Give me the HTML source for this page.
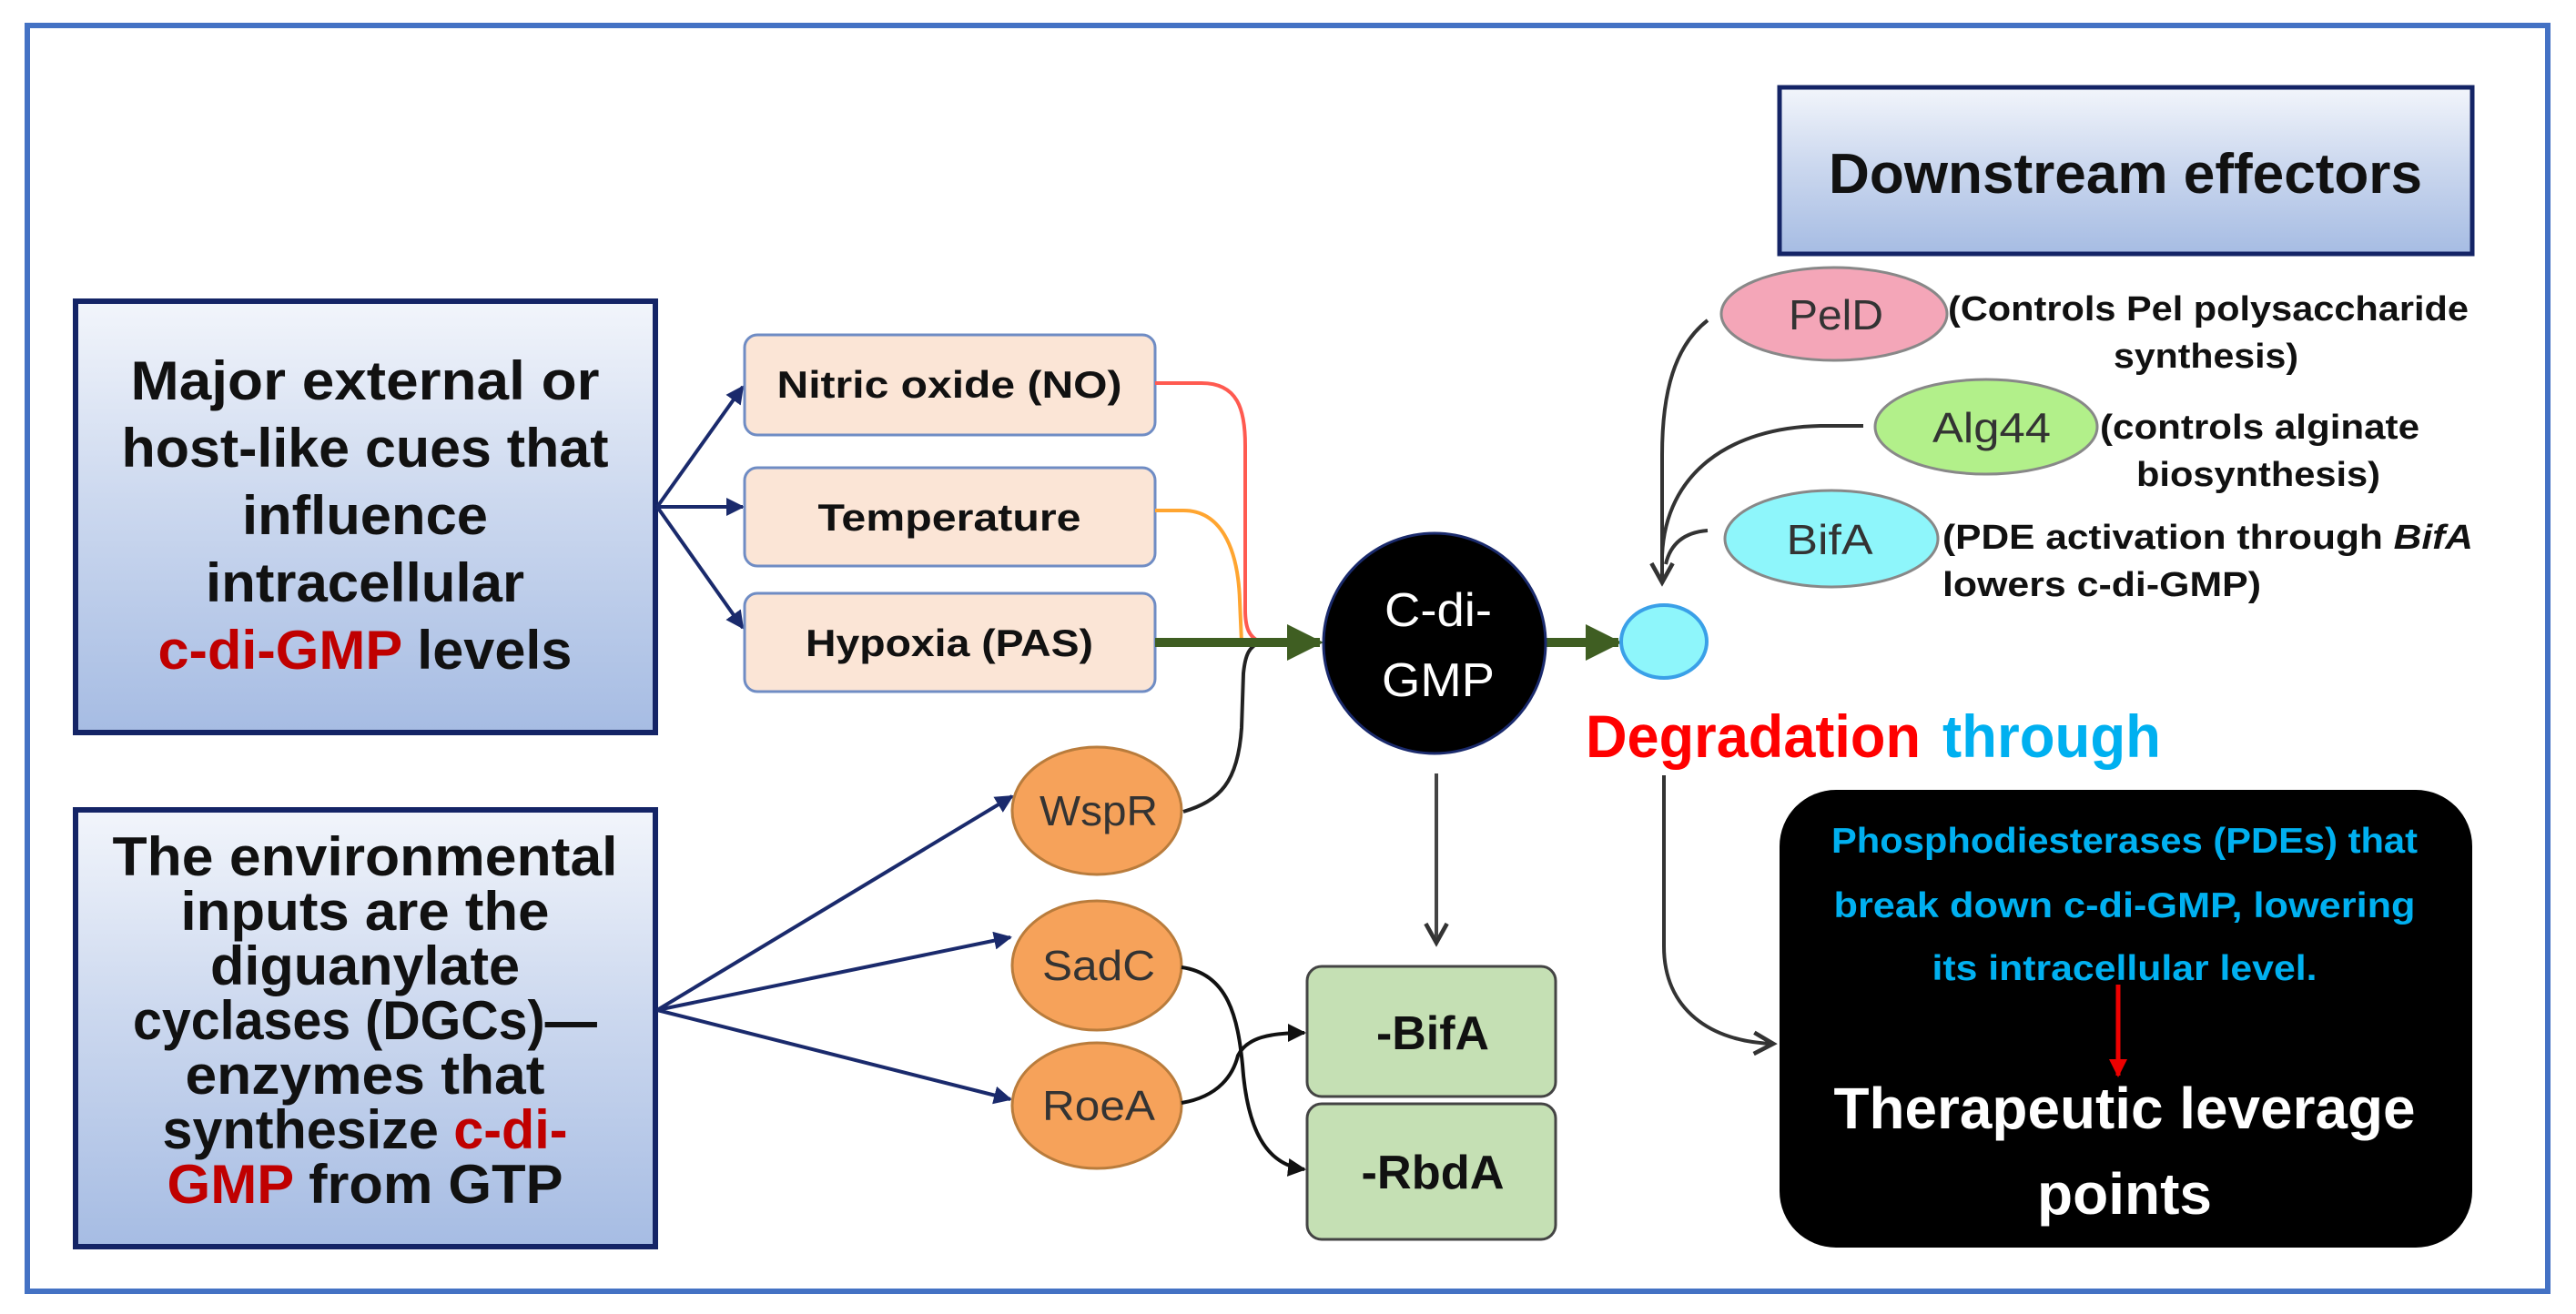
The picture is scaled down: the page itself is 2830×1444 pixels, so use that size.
<!DOCTYPE html>
<html><head><meta charset="utf-8"><style>
html,body{margin:0;padding:0;background:#fff}
svg{display:block}
text{font-family:"Liberation Sans",sans-serif}
</style></head><body>
<svg width="2830" height="1444" viewBox="0 0 2830 1444" xmlns="http://www.w3.org/2000/svg">
<defs>
<linearGradient id="bg" x1="0" y1="0" x2="0" y2="1">
<stop offset="0" stop-color="#f2f5fb"/><stop offset="0.45" stop-color="#cdd9ef"/><stop offset="1" stop-color="#a6bce3"/>
</linearGradient>
<marker id="an" viewBox="0 0 10 10" refX="9" refY="5" markerWidth="5" markerHeight="5" orient="auto"><path d="M0,0 L10,5 L0,10 z" fill="#1a2a6c"/></marker>
<marker id="ag" viewBox="0 0 10 10" refX="9" refY="5" markerWidth="4" markerHeight="4" orient="auto"><path d="M0,0 L10,5 L0,10 z" fill="#3f5e22"/></marker>
<marker id="ak" viewBox="0 0 12 12" refX="10" refY="6" markerWidth="7" markerHeight="7" orient="auto"><path d="M1,1 L10,6 L1,11" fill="none" stroke="#333" stroke-width="2"/></marker>
<marker id="ab" viewBox="0 0 10 10" refX="9" refY="5" markerWidth="5" markerHeight="5" orient="auto"><path d="M0,0 L10,5 L0,10 z" fill="#111"/></marker>
<marker id="ar" viewBox="0 0 10 10" refX="9" refY="5" markerWidth="4" markerHeight="4" orient="auto"><path d="M0,0 L10,5 L0,10 z" fill="#e00"/></marker>
</defs>
<rect x="30" y="28" width="2769" height="1391" fill="#fff" stroke="#4472c4" stroke-width="6"/>

<!-- left boxes -->
<rect x="83" y="331" width="637" height="474" fill="url(#bg)" stroke="#142466" stroke-width="6"/>
<g font-weight="bold" font-size="60" text-anchor="middle" fill="#111">
<text x="401" y="439" textLength="515" lengthAdjust="spacingAndGlyphs">Major external or</text>
<text x="401" y="513" textLength="535" lengthAdjust="spacingAndGlyphs">host-like cues that</text>
<text x="401" y="587" textLength="270" lengthAdjust="spacingAndGlyphs">influence</text>
<text x="401" y="661" textLength="350" lengthAdjust="spacingAndGlyphs">intracellular</text>
<text x="401" y="735" textLength="455" lengthAdjust="spacingAndGlyphs"><tspan fill="#c00000">c-di-GMP</tspan> levels</text>
</g>
<rect x="83" y="890" width="637" height="480" fill="url(#bg)" stroke="#142466" stroke-width="6"/>
<g font-weight="bold" font-size="60" text-anchor="middle" fill="#111">
<text x="401" y="962" textLength="555" lengthAdjust="spacingAndGlyphs">The environmental</text>
<text x="401" y="1022" textLength="405" lengthAdjust="spacingAndGlyphs">inputs are the</text>
<text x="401" y="1082" textLength="340" lengthAdjust="spacingAndGlyphs">diguanylate</text>
<text x="401" y="1142" textLength="510" lengthAdjust="spacingAndGlyphs">cyclases (DGCs)—</text>
<text x="401" y="1202" textLength="395" lengthAdjust="spacingAndGlyphs">enzymes that</text>
<text x="401" y="1262" textLength="445" lengthAdjust="spacingAndGlyphs">synthesize <tspan fill="#c00000">c-di-</tspan></text>
<text x="401" y="1322" textLength="435" lengthAdjust="spacingAndGlyphs"><tspan fill="#c00000">GMP</tspan> from GTP</text>
</g>

<!-- arrows from box1 -->
<g stroke="#1a2a6c" stroke-width="4" fill="none" marker-end="url(#an)">
<line x1="722" y1="557" x2="816" y2="425"/>
<line x1="722" y1="557" x2="816" y2="557"/>
<line x1="722" y1="557" x2="816" y2="690"/>
<line x1="722" y1="1110" x2="1112" y2="875"/>
<line x1="722" y1="1110" x2="1110" y2="1030"/>
<line x1="722" y1="1110" x2="1110" y2="1208"/>
</g>

<!-- cue boxes -->
<g fill="#fbe5d6" stroke="#6f8cc4" stroke-width="3">
<rect x="818" y="368" width="451" height="110" rx="14"/>
<rect x="818" y="514" width="451" height="108" rx="14"/>
<rect x="818" y="652" width="451" height="108" rx="14"/>
</g>
<g font-weight="bold" font-size="42" text-anchor="middle" fill="#111">
<text x="1043" y="437" textLength="379" lengthAdjust="spacingAndGlyphs">Nitric oxide (NO)</text>
<text x="1043" y="583" textLength="289" lengthAdjust="spacingAndGlyphs">Temperature</text>
<text x="1043" y="721" textLength="316" lengthAdjust="spacingAndGlyphs">Hypoxia (PAS)</text>
</g>

<!-- colored converging lines -->
<path d="M1269,421 L1320,421 C1360,421 1368,450 1368,490 L1368,670 C1368,690 1372,700 1385,706" fill="none" stroke="#ff5a50" stroke-width="4"/>
<path d="M1269,561 L1300,561 C1340,561 1360,600 1362,660 L1364,706" fill="none" stroke="#ffa530" stroke-width="4"/>
<path d="M1300,892 C1340,880 1360,860 1364,800 L1366,740 C1368,720 1372,710 1385,706" fill="none" stroke="#222" stroke-width="4"/>
<line x1="1269" y1="706" x2="1450" y2="706" stroke="#3f5e22" stroke-width="10" marker-end="url(#ag)"/>
<line x1="1697" y1="706" x2="1778" y2="706" stroke="#3f5e22" stroke-width="10" marker-end="url(#ag)"/>

<!-- C-di-GMP -->
<ellipse cx="1576" cy="707" rx="122" ry="121" fill="#000" stroke="#1a2a6c" stroke-width="3"/>
<g font-size="52" text-anchor="middle" fill="#fff">
<text x="1580" y="688" textLength="118" lengthAdjust="spacingAndGlyphs">C-di-</text>
<text x="1580" y="765" textLength="124" lengthAdjust="spacingAndGlyphs">GMP</text>
</g>
<ellipse cx="1828" cy="705" rx="47" ry="40" fill="#8ef6fb" stroke="#3aa0e8" stroke-width="4"/>

<!-- down arrow to BifA/RbdA -->
<line x1="1578" y1="850" x2="1578" y2="1036" stroke="#444" stroke-width="4" marker-end="url(#ak)"/>

<!-- DGC ellipses -->
<g fill="#f6a25a" stroke="#b97c3c" stroke-width="3">
<ellipse cx="1205" cy="891" rx="93" ry="70"/>
<ellipse cx="1205" cy="1061" rx="93" ry="71"/>
<ellipse cx="1205" cy="1215" rx="93" ry="69"/>
</g>
<g font-size="46" text-anchor="middle" fill="#333">
<text x="1207" y="907" textLength="130" lengthAdjust="spacingAndGlyphs">WspR</text>
<text x="1207" y="1077" textLength="124" lengthAdjust="spacingAndGlyphs">SadC</text>
<text x="1207" y="1231" textLength="124" lengthAdjust="spacingAndGlyphs">RoeA</text>
</g>
<path d="M1298,1063 C1350,1070 1360,1120 1365,1170 C1370,1240 1390,1280 1433,1285" fill="none" stroke="#111" stroke-width="4" marker-end="url(#ab)"/>
<path d="M1298,1212 C1340,1205 1355,1180 1360,1160 C1370,1140 1395,1135 1433,1135" fill="none" stroke="#111" stroke-width="4" marker-end="url(#ab)"/>

<!-- BifA / RbdA boxes -->
<g fill="#c5e0b4" stroke="#444" stroke-width="3">
<rect x="1436" y="1062" width="273" height="143" rx="16"/>
<rect x="1436" y="1213" width="273" height="149" rx="16"/>
</g>
<g font-weight="bold" font-size="52" text-anchor="middle" fill="#111">
<text x="1574" y="1153" textLength="124" lengthAdjust="spacingAndGlyphs">-BifA</text>
<text x="1574" y="1306" textLength="157" lengthAdjust="spacingAndGlyphs">-RbdA</text>
</g>

<!-- Downstream effectors -->
<rect x="1955" y="96" width="761" height="183" fill="url(#bg)" stroke="#142466" stroke-width="5"/>
<text x="2335" y="212" font-weight="bold" font-size="62" text-anchor="middle" fill="#111" textLength="652" lengthAdjust="spacingAndGlyphs">Downstream effectors</text>

<!-- effector ellipses -->
<ellipse cx="2015" cy="345" rx="124" ry="51" fill="#f4a6b8" stroke="#888" stroke-width="3"/>
<ellipse cx="2182" cy="469" rx="122" ry="52" fill="#b2f08a" stroke="#888" stroke-width="3"/>
<ellipse cx="2012" cy="592" rx="117" ry="53" fill="#8ef6fb" stroke="#888" stroke-width="3"/>
<g font-size="46" text-anchor="middle" fill="#333">
<text x="2017" y="362" textLength="104" lengthAdjust="spacingAndGlyphs">PelD</text>
<text x="2188" y="486" textLength="130" lengthAdjust="spacingAndGlyphs">Alg44</text>
<text x="2010" y="609" textLength="95" lengthAdjust="spacingAndGlyphs">BifA</text>
</g>
<g font-weight="bold" font-size="38" fill="#111">
<text x="2140" y="352" textLength="572" lengthAdjust="spacingAndGlyphs">(Controls Pel polysaccharide</text>
<text x="2322" y="404" textLength="203" lengthAdjust="spacingAndGlyphs">synthesis)</text>
<text x="2307" y="482" textLength="351" lengthAdjust="spacingAndGlyphs">(controls alginate</text>
<text x="2347" y="534" textLength="268" lengthAdjust="spacingAndGlyphs">biosynthesis)</text>
<text x="2134" y="603" textLength="583" lengthAdjust="spacingAndGlyphs">(PDE activation through <tspan font-style="italic">BifA</tspan></text>
<text x="2134" y="655" textLength="350" lengthAdjust="spacingAndGlyphs">lowers c-di-GMP)</text>
</g>
<g fill="none" stroke="#333" stroke-width="4">
<path d="M1876,352 C1840,380 1826,430 1826,500 L1826,640" marker-end="url(#ak)"/>
<path d="M2047,468 L2000,468 C1900,470 1830,520 1826,610"/>
<path d="M1876,583 C1850,585 1835,598 1830,620"/>
</g>

<!-- Degradation -->
<text x="1742" y="832" font-weight="bold" font-size="66" fill="#ff0000" textLength="368" lengthAdjust="spacingAndGlyphs">Degradation</text>
<text x="2134" y="832" font-weight="bold" font-size="66" fill="#00b0f0" textLength="240" lengthAdjust="spacingAndGlyphs">through</text>
<path d="M1828,852 L1828,1040 C1828,1110 1880,1145 1948,1147" fill="none" stroke="#333" stroke-width="4" marker-end="url(#ak)"/>

<!-- black box -->
<rect x="1955" y="868" width="761" height="503" rx="62" fill="#000"/>
<g font-weight="bold" font-size="39" text-anchor="middle" fill="#00b0f0">
<text x="2334" y="937" textLength="644" lengthAdjust="spacingAndGlyphs">Phosphodiesterases (PDEs) that</text>
<text x="2334" y="1008" textLength="639" lengthAdjust="spacingAndGlyphs">break down c-di-GMP, lowering</text>
<text x="2334" y="1077" textLength="423" lengthAdjust="spacingAndGlyphs">its intracellular level.</text>
</g>
<line x1="2327" y1="1082" x2="2327" y2="1182" stroke="#e00" stroke-width="5" marker-end="url(#ar)"/>
<g font-weight="bold" font-size="64" text-anchor="middle" fill="#fff">
<text x="2334" y="1240" textLength="639" lengthAdjust="spacingAndGlyphs">Therapeutic leverage</text>
<text x="2334" y="1334" textLength="192" lengthAdjust="spacingAndGlyphs">points</text>
</g>
</svg>
</body></html>
